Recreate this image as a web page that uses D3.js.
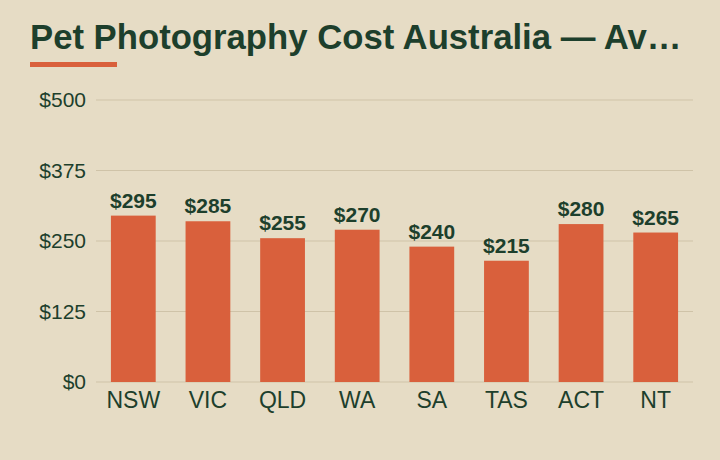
<!DOCTYPE html>
<html>
<head>
<meta charset="utf-8">
<script src="https://cdn.jsdelivr.net/npm/d3@7"></script>
<style>
  body { margin: 0; background: #e6dcc5; }
  svg { display: block; font-family: "Liberation Sans", Arial, sans-serif; }
</style>
</head>
<body>
<svg id="chart" width="720" height="460"></svg>
<script>
const states = ["NSW", "VIC", "QLD", "WA", "SA", "TAS", "ACT", "NT"];
const costs = [295, 285, 255, 270, 240, 215, 280, 265];
const yTicks = [0, 125, 250, 375, 500];
const title = "Pet Photography Cost Australia — Av…";

const ink = "#1d3f2c",
  barColor = "#d9603c",
  gridColor = "#cfc3a8";

const svg = d3.select("#chart"),
  margin = { top: 100, right: 27, bottom: 78, left: 96 },
  width = +svg.attr("width") - margin.left - margin.right,
  height = +svg.attr("height") - margin.top - margin.bottom;

svg.append("rect").attr("width", 720).attr("height", 460).attr("fill", "#e6dcc5");

// title + accent underline
svg
  .append("text")
  .attr("x", 30)
  .attr("y", 49)
  .attr("fill", ink)
  .attr("font-size", "34.7px")
  .attr("font-weight", "bold")
  .text(title);

svg
  .append("rect")
  .attr("x", 30)
  .attr("y", 62)
  .attr("width", 87)
  .attr("height", 5)
  .attr("fill", barColor);

const g = svg
  .append("g")
  .attr("transform", `translate(${margin.left},${margin.top})`);

const x = d3
  .scaleBand()
  .domain(states)
  .range([0, width])
  .paddingInner(0.4)
  .paddingOuter(0.2);
const y = d3.scaleLinear().domain([0, 500]).range([height, 0]);

// gridlines
g.append("g")
  .selectAll("line")
  .data(yTicks)
  .enter()
  .append("line")
  .attr("x1", 0)
  .attr("x2", width)
  .attr("y1", (d) => y(d))
  .attr("y2", (d) => y(d))
  .attr("stroke", gridColor)
  .attr("stroke-width", 1);

// y axis
const yAxis = g
  .append("g")
  .call(
    d3
      .axisLeft(y)
      .tickValues(yTicks)
      .tickSize(0)
      .tickPadding(10)
      .tickFormat((d) => "$" + d)
  );
yAxis.select(".domain").remove();
yAxis
  .selectAll("text")
  .attr("fill", ink)
  .attr("font-size", "21px")
  .attr("font-family", "Liberation Sans, Arial, sans-serif");

// bars
g.selectAll(".bar")
  .data(states)
  .enter()
  .append("rect")
  .attr("class", "bar")
  .attr("x", (d) => x(d))
  .attr("y", (d, i) => y(costs[i]))
  .attr("width", x.bandwidth())
  .attr("height", (d, i) => height - y(costs[i]))
  .attr("fill", barColor);

// value labels
g.selectAll(".val")
  .data(states)
  .enter()
  .append("text")
  .attr("class", "val")
  .attr("x", (d) => x(d) + x.bandwidth() / 2)
  .attr("y", (d, i) => y(costs[i]) - 8)
  .attr("text-anchor", "middle")
  .attr("fill", ink)
  .attr("font-size", "21px")
  .attr("font-weight", "bold")
  .text((d, i) => "$" + costs[i]);

// x axis
const xAxis = g
  .append("g")
  .attr("transform", `translate(0,${height})`)
  .call(d3.axisBottom(x).tickSize(0).tickPadding(10));
xAxis.select(".domain").remove();
xAxis
  .selectAll("text")
  .attr("fill", ink)
  .attr("font-size", "23px")
  .attr("font-family", "Liberation Sans, Arial, sans-serif");
</script>
</body>
</html>
